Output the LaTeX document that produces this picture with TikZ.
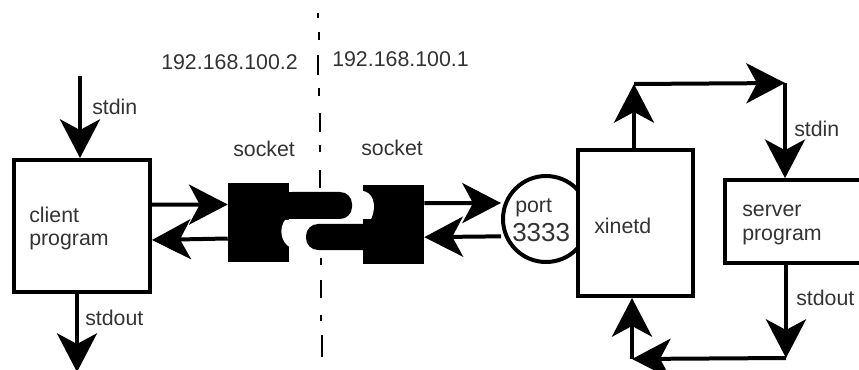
\documentclass[tikz,border=0pt]{standalone}
\usepackage{fontspec}
\setmainfont{Liberation Sans}
\usetikzlibrary{arrows.meta,calc}
\tikzset{
  x=0.75pt,y=-0.75pt,
  box/.style={draw=black,line width=3pt,fill=white,inner sep=0pt,rectangle},
  link/.style={line width=3pt,draw=black},
  arr/.style={link,-{Stealth[length=29pt,width=30pt,inset=8pt]}},
  lbl/.style={font=\fontsize{16pt}{18pt}\selectfont,text=black!80,inner sep=0pt,align=left},
  divider/.style={line width=1.1pt,draw=black},
  socketbody/.style={fill=black,inner sep=0pt,rectangle},
}
\begin{document}
\begin{tikzpicture}
\useasboundingbox (0,0) rectangle (859,370);
% divider
\draw[divider] (318,13)--(318,18) (319,32)--(319,40) (318,55)--(318,75) (319,88)--(319,96)
  (320,113)--(320,132) (320,145)--(320,152) (320,170)--(320,188)
  (321,258)--(321,265) (321,280)--(321,298) (321,315)--(321,321) (322,335)--(322,357);
% port circle and boxes
\node[circle,draw=black,line width=3pt,fill=white,minimum size=64.5pt,inner sep=0pt] (port) at (546,219) {};
\node[box,minimum width=102pt,minimum height=99pt] (client) at (82,226) {};
\node[box,minimum width=86.25pt,minimum height=109.5pt] (xinetd) at (635.5,223) {};
\node[box,minimum width=120pt,minimum height=62pt] (server) at (805,221.5) {};
% sockets
\node[socketbody,minimum width=45.75pt,minimum height=59.25pt] (sockL) at (258.5,222.5) {};
\node[socketbody,minimum width=45.75pt,minimum height=59.25pt] (sockR) at (393.5,224.5) {};
\fill[white] (293,220) -- (285,220) .. controls (279,228) and (280,242) .. (291,248) -- (293,248) -- cycle;
\fill[white] (361,191) .. controls (372,190) and (378,205) .. (371,219) -- (361,219) -- cycle;
\fill[black,rounded corners=9pt] (280,192) -- (352,192) -- (352,219) -- (280,219) -- cycle;
\fill[black] (280,192) rectangle (300,219);
\fill[black,rounded corners=9pt] (306,224) -- (380,224) -- (380,250) -- (306,250) -- cycle;
\fill[black] (360,224) rectangle (380,250);
% named free ends
\coordinate (cin) at (80,76);
\coordinate (cout) at (77,372);
\coordinate (topL) at (634,84);
\coordinate (topR) at (785,83);
\coordinate (botR) at (786,358);
\coordinate (botL) at (632,359);
% connectors
\draw[arr] (cin) -- (cin |- client.north);
\draw[arr] (cout |- client.south) -- (cout);
\draw[arr] ([yshift=16pt]client.east) -- ([yshift=13.5pt]sockL.west);
\draw[arr] ([yshift=-12pt]sockL.west) -- ([yshift=-10.5pt]client.east);
\draw[arr] ([yshift=16pt]sockR.east) -- ([yshift=12pt]port.west);
\draw[arr] ([yshift=-13pt]port.west) -- ([yshift=-9.5pt]sockR.east);
\draw[arr] (topL |- xinetd.north) -- (topL);
\draw[arr] (topL) -- (topR);
\draw[arr] (topR) -- (topR |- server.north);
\draw[arr] (botR |- server.south) -- (botR);
\draw[arr] (botR) -- (botL);
\draw[arr] (botL) -- (botL |- xinetd.south);
% labels
\node[lbl,anchor=west] (t1) at (161,62) {192.168.100.2};
\node[lbl,anchor=west] (t2) at (332,59) {192.168.100.1};
\node[lbl,anchor=west] (t3) at (92,107) {stdin};
\node[lbl,anchor=west] (t4) at (85,318) {stdout};
\node[lbl,anchor=west] (t5) at (233,149) {socket};
\node[lbl,anchor=west] (t6) at (361,148) {socket};
\node[lbl,anchor=west] (t7) at (29,215) {client};
\node[lbl,anchor=west] (t8) at (29,242) {program};
\node[lbl,anchor=west] (t9) at (515,208) {port};
\node[lbl,anchor=west,font=\fontsize{19.5pt}{20pt}\selectfont] (t10) at (512,233) {3333};
\node[lbl,anchor=west] (t11) at (594,226) {xinetd};
\node[lbl,anchor=west] (t12) at (742,211) {server};
\node[lbl,anchor=west] (t13) at (742,237) {program};
\node[lbl,anchor=west] (t14) at (794,129) {stdin};
\node[lbl,anchor=west] (t15) at (796,298) {stdout};
\end{tikzpicture}
\end{document}
